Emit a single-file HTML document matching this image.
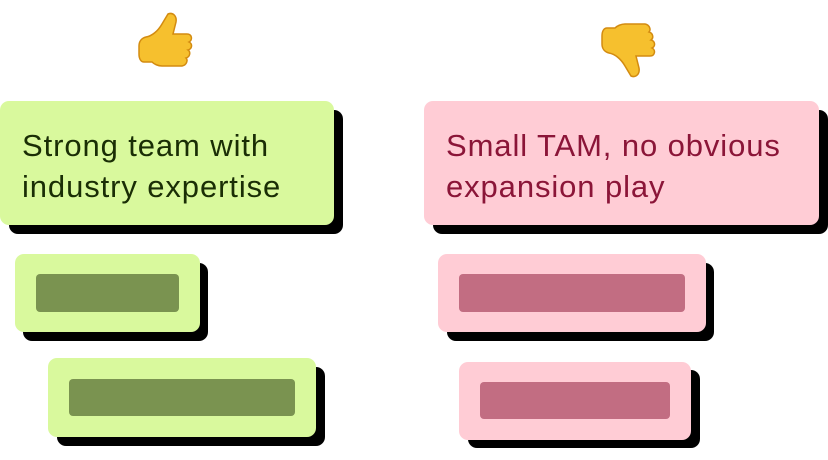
<!DOCTYPE html>
<html><head><meta charset="utf-8"><style>
body{margin:0;width:828px;height:460px;background:#fff;position:relative;overflow:hidden;font-family:"Liberation Sans",sans-serif}
.b{position:absolute;border-radius:9px}
.s{position:absolute;border-radius:9px;background:#000}
.g{background:#d9f99d}.p{background:#ffccd5}
.gb{background:#7a9350;border-radius:4px;position:absolute}
.pb{background:#c26d82;border-radius:4px;position:absolute}
.t{position:absolute;font-size:31px;line-height:41px;letter-spacing:0.9px;white-space:nowrap}
</style></head><body>
<svg style="position:absolute;left:138px;top:10px" width="62" height="66" viewBox="0 0 62 66">
<path d="M30 4c5-2 9 2 8 8l-3 12h14c5 0 6 6 2 8 4 2 3 7-1 8 3 2 2 7-2 8 2 2 1 7-4 8H24c-4 0-8-2-10-4H6c-3 0-5-3-5-8V36c0-5 3-8 7-9 6-1 12-6 16-13z" fill="#f6c02e" stroke="#d38b10" stroke-width="1.5"/>
</svg>
<svg style="position:absolute;left:601px;top:14px" width="62" height="66" viewBox="0 0 62 66" >
<g transform="translate(62,66) rotate(180)">
<path d="M30 4c5-2 9 2 8 8l-3 12h14c5 0 6 6 2 8 4 2 3 7-1 8 3 2 2 7-2 8 2 2 1 7-4 8H24c-4 0-8-2-10-4H6c-3 0-5-3-5-8V36c0-5 3-8 7-9 6-1 12-6 16-13z" fill="#f6c02e" stroke="#d38b10" stroke-width="1.5" transform="translate(62,0) scale(-1,1)"/>
</g></svg>

<div class="s" style="left:9px;top:110px;width:334px;height:124px"></div>
<div class="b g" style="left:0;top:101px;width:334px;height:124px"></div>
<div class="t" style="left:22px;top:125px;color:#1a2e05">Strong team with<br>industry expertise</div>

<div class="s" style="left:23px;top:263px;width:185px;height:78px"></div>
<div class="b g" style="left:15px;top:254px;width:185px;height:78px"></div>
<div class="gb" style="left:36px;top:274px;width:143px;height:38px"></div>

<div class="s" style="left:57px;top:367px;width:268px;height:79px"></div>
<div class="b g" style="left:48px;top:358px;width:268px;height:79px"></div>
<div class="gb" style="left:69px;top:379px;width:226px;height:37px"></div>

<div class="s" style="left:433px;top:110px;width:395px;height:124px"></div>
<div class="b p" style="left:424px;top:101px;width:395px;height:124px"></div>
<div class="t" style="left:446px;top:125px;color:#8b1538">Small TAM, no obvious<br>expansion play</div>

<div class="s" style="left:447px;top:263px;width:267px;height:78px"></div>
<div class="b p" style="left:438px;top:254px;width:268px;height:78px"></div>
<div class="pb" style="left:459px;top:274px;width:226px;height:38px"></div>

<div class="s" style="left:468px;top:370px;width:232px;height:78px"></div>
<div class="b p" style="left:459px;top:362px;width:232px;height:78px"></div>
<div class="pb" style="left:480px;top:382px;width:190px;height:37px"></div>
</body></html>
